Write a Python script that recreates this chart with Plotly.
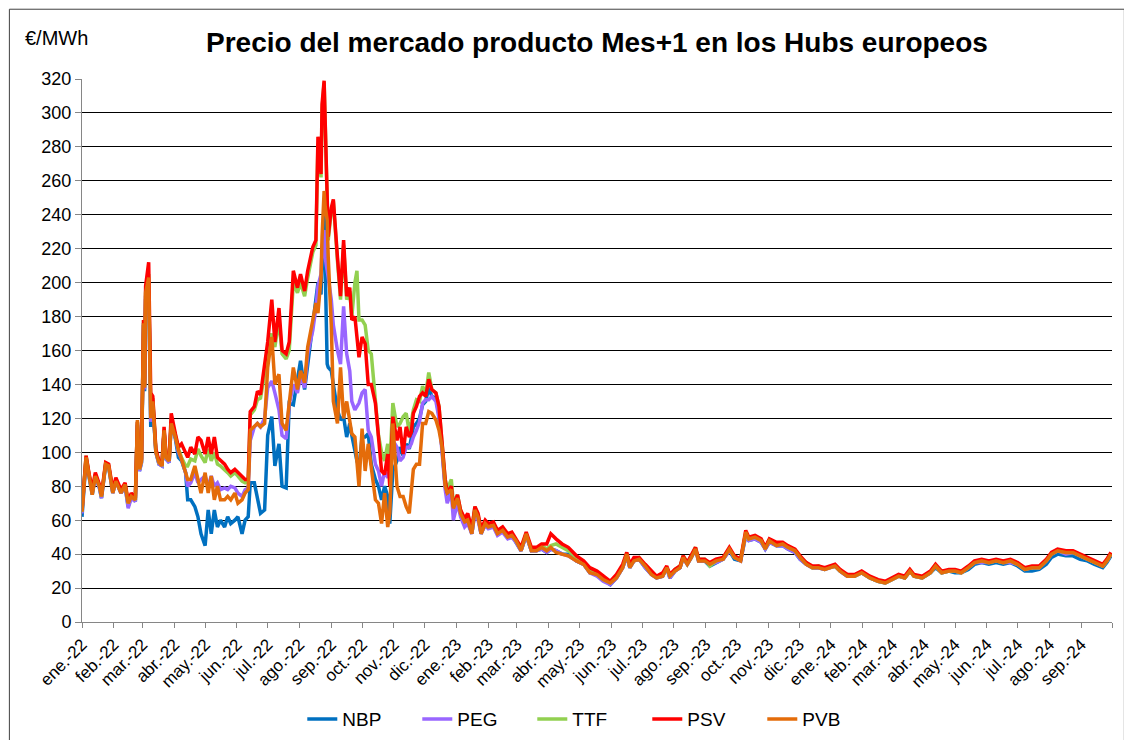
import plotly.graph_objects as go

# fechas de cotizacion (producto Mes+1)
dates = [
    "2022-01-01", "2022-01-05", "2022-01-08", "2022-01-11", "2022-01-14", "2022-01-18", "2022-01-20", "2022-01-24", "2022-01-27", "2022-01-31",
    "2022-02-03", "2022-02-08", "2022-02-12", "2022-02-15", "2022-02-18", "2022-02-22", "2022-02-24", "2022-02-26", "2022-02-28",
    "2022-03-02", "2022-03-03", "2022-03-04", "2022-03-07", "2022-03-09", "2022-03-11", "2022-03-14", "2022-03-17", "2022-03-20", "2022-03-22", "2022-03-24", "2022-03-27", "2022-03-29",
    "2022-04-02", "2022-04-05", "2022-04-08", "2022-04-12", "2022-04-14", "2022-04-17", "2022-04-21", "2022-04-24", "2022-04-27",
    "2022-05-01", "2022-05-04", "2022-05-07", "2022-05-10", "2022-05-13", "2022-05-16", "2022-05-20", "2022-05-23", "2022-05-26", "2022-05-30",
    "2022-06-02", "2022-06-06", "2022-06-09", "2022-06-12", "2022-06-14", "2022-06-18", "2022-06-21", "2022-06-24", "2022-06-28",
    "2022-07-01", "2022-07-05", "2022-07-08", "2022-07-12", "2022-07-15", "2022-07-19", "2022-07-22", "2022-07-26", "2022-07-30",
    "2022-08-02", "2022-08-06", "2022-08-09", "2022-08-14", "2022-08-17", "2022-08-19", "2022-08-22", "2022-08-23", "2022-08-25", "2022-08-26", "2022-08-28", "2022-08-29",
    "2022-09-01", "2022-09-03", "2022-09-07", "2022-09-10", "2022-09-13", "2022-09-16", "2022-09-19", "2022-09-21", "2022-09-24", "2022-09-26", "2022-09-28",
    "2022-10-01", "2022-10-04", "2022-10-07", "2022-10-10", "2022-10-14", "2022-10-17", "2022-10-20", "2022-10-23", "2022-10-26", "2022-10-28", "2022-10-31",
    "2022-11-04", "2022-11-07", "2022-11-10", "2022-11-13", "2022-11-16", "2022-11-18", "2022-11-20", "2022-11-23", "2022-11-26", "2022-11-29",
    "2022-12-02", "2022-12-05", "2022-12-08", "2022-12-12", "2022-12-15", "2022-12-18", "2022-12-21", "2022-12-23", "2022-12-27", "2022-12-29",
    "2023-01-02", "2023-01-05", "2023-01-09", "2023-01-12", "2023-01-16", "2023-01-19", "2023-01-22", "2023-01-25", "2023-01-29",
    "2023-02-01", "2023-02-06", "2023-02-10", "2023-02-15", "2023-02-20", "2023-02-24", "2023-02-28",
    "2023-03-05", "2023-03-10", "2023-03-15", "2023-03-20", "2023-03-25", "2023-03-30",
    "2023-04-03", "2023-04-08", "2023-04-14", "2023-04-20", "2023-04-28",
    "2023-05-05", "2023-05-11", "2023-05-18", "2023-05-24", "2023-05-31",
    "2023-06-06", "2023-06-12", "2023-06-16", "2023-06-19", "2023-06-23", "2023-06-28",
    "2023-07-04", "2023-07-10", "2023-07-15", "2023-07-21", "2023-07-25", "2023-07-28",
    "2023-08-02", "2023-08-07", "2023-08-10", "2023-08-14", "2023-08-18", "2023-08-22", "2023-08-25", "2023-08-31",
    "2023-09-05", "2023-09-11", "2023-09-18", "2023-09-24", "2023-09-29",
    "2023-10-05", "2023-10-10", "2023-10-13", "2023-10-19", "2023-10-25", "2023-10-29",
    "2023-11-02", "2023-11-09", "2023-11-15", "2023-11-20", "2023-11-27",
    "2023-12-02", "2023-12-08", "2023-12-14", "2023-12-20", "2023-12-26", "2023-12-30",
    "2024-01-05", "2024-01-10", "2024-01-17", "2024-01-24", "2024-01-31",
    "2024-02-08", "2024-02-16", "2024-02-23",
    "2024-03-01", "2024-03-07", "2024-03-13", "2024-03-18", "2024-03-22", "2024-03-30",
    "2024-04-07", "2024-04-12", "2024-04-18", "2024-04-25",
    "2024-05-01", "2024-05-07", "2024-05-14", "2024-05-20", "2024-05-27",
    "2024-06-03", "2024-06-10", "2024-06-17", "2024-06-24",
    "2024-07-01", "2024-07-08", "2024-07-15", "2024-07-22", "2024-07-29",
    "2024-08-03", "2024-08-09", "2024-08-17", "2024-08-24", "2024-08-31",
    "2024-09-07", "2024-09-14", "2024-09-22", "2024-09-26", "2024-09-30",
]

nbp = [
    62, 96, 85, 75, 86, 79, 73, 92, 91, 76,
    83, 76, 80, 68, 74, 71, 116, 89, 94,
    175, 136, 190, 198, 115, 128, 100, 93, 92, 112, 96, 94, 118,
    108, 97, 95, 88, 72, 72, 68, 62, 52,
    45, 66, 52, 66, 56, 60, 56, 62, 58, 60,
    62, 52, 60, 62, 82, 82, 72, 64, 66,
    110, 121, 92, 105, 80, 79, 129, 128, 142,
    154, 137, 152, 176, 188, 200, 193, 215, 240, 200, 152, 150,
    148, 140, 125, 119, 121, 109, 117, 110, 100, 95, 91,
    109, 109, 111, 93, 84, 80, 72, 80, 74, 58, 89,
    95, 103, 98, 105, 102, 108, 115, 117, 120, 128,
    130, 138, 133, 132, 122, 102, 80, 75, 78, 65,
    72, 64, 58, 60, 52, 66, 62, 52, 58,
    56, 57, 52, 54, 50, 51, 47,
    42, 51, 42, 42, 43, 41,
    43, 42, 40, 40, 36,
    34, 29, 28, 25, 22,
    26, 32, 39, 32, 36, 37,
    32, 28, 26, 27, 32, 26,
    30, 32, 38, 34, 38, 43, 36, 36,
    33, 35, 37, 42, 37,
    36, 51, 48, 49, 47, 43,
    47, 45, 45, 43, 41,
    37, 34, 32, 32, 31, 32,
    33, 30, 27, 27, 29,
    26, 24, 23,
    25, 27, 26, 30, 27, 26,
    29, 32, 29, 30,
    29, 29, 31, 34, 35,
    34, 35, 34, 35,
    33, 30, 30, 31, 34,
    38, 40, 39, 39, 37,
    36, 34, 32, 35, 39,
]

peg = [
    64, 97, 86, 76, 86, 79, 73, 93, 92, 76,
    83, 76, 80, 67, 73, 71, 117, 89, 94,
    176, 137, 192, 200, 118, 130, 100, 93, 92, 112, 96, 94, 118,
    109, 100, 96, 88, 80, 82, 88, 82, 84,
    86, 80, 86, 80, 82, 78, 79, 78, 80, 79,
    76, 74, 78, 79, 107, 115, 117, 115, 120,
    138, 142, 135, 125, 110, 108, 128, 140, 135,
    145, 138, 158, 172, 185, 198, 205, 220, 231, 215, 205, 203,
    190, 175, 160, 152, 186, 158, 148, 130, 125, 127, 129,
    135, 137, 113, 109, 93, 89, 80, 89, 85, 89, 107,
    103, 95, 97, 103, 103, 105, 109, 113, 118, 129,
    131, 131, 133, 130, 120, 100, 78, 70, 77, 60,
    70, 62, 56, 58, 52, 64, 60, 52, 57,
    55, 56, 51, 53, 49, 50, 47,
    42, 51, 42, 42, 43, 41,
    43, 42, 40, 39, 36,
    34, 29, 27, 24, 22,
    26, 32, 39, 32, 36, 37,
    32, 28, 26, 27, 32, 26,
    30, 32, 38, 34, 38, 43, 36, 36,
    34, 35, 37, 42, 38,
    36, 51, 48, 49, 47, 43,
    47, 45, 45, 43, 41,
    37, 34, 32, 32, 31, 32,
    33, 30, 27, 27, 29,
    26, 24, 23,
    25, 27, 26, 30, 27, 26,
    29, 33, 29, 30,
    30, 29, 32, 35, 35,
    35, 36, 35, 35,
    34, 31, 32, 32, 36,
    40, 42, 40, 41, 39,
    37, 35, 33, 36, 40,
]

ttf = [
    65, 98, 86, 77, 87, 80, 74, 93, 92, 77,
    84, 77, 81, 70, 75, 72, 118, 90, 95,
    178, 139, 195, 205, 122, 132, 101, 94, 93, 113, 97, 95, 120,
    110, 102, 97, 92, 92, 96, 95, 102, 98,
    94, 102, 95, 100, 93, 92, 90, 88, 86, 88,
    86, 83, 82, 83, 122, 125, 131, 132, 146,
    160, 170, 162, 178, 158, 155, 160, 200, 194,
    200, 192, 203, 218, 222, 282, 262, 302, 318, 295, 245, 225,
    242, 248, 213, 190, 222, 190, 195, 180, 200, 207, 178,
    178, 175, 160, 158, 130, 110, 100, 95, 105, 92, 129,
    115, 117, 121, 123, 112, 118, 125, 131, 130, 139,
    134, 147, 137, 135, 127, 105, 84, 78, 84, 70,
    75, 66, 60, 63, 54, 68, 63, 54, 59,
    57, 58, 53, 55, 51, 52, 48,
    43, 52, 43, 43, 45, 43,
    45, 46, 44, 42, 38,
    35, 30, 28, 25, 23,
    27, 33, 40, 33, 37, 38,
    33, 29, 27, 28, 32, 27,
    31, 33, 39, 35, 39, 44, 37, 37,
    33, 36, 38, 43, 38,
    37, 52, 49, 50, 48, 44,
    48, 46, 46, 44, 42,
    38, 35, 32, 33, 31, 32,
    33, 30, 28, 27, 29,
    26, 24, 23,
    25, 27, 26, 30, 27, 26,
    29, 33, 29, 30,
    30, 29, 32, 35, 36,
    35, 36, 35, 36,
    34, 31, 32, 32, 36,
    40, 42, 41, 41, 39,
    37, 35, 33, 36, 40,
]

psv = [
    66, 98, 87, 78, 88, 81, 75, 94, 93, 78,
    85, 78, 82, 71, 76, 73, 118, 91, 96,
    178, 140, 198, 212, 135, 133, 102, 95, 94, 115, 98, 96, 123,
    111, 103, 105, 99, 97, 103, 99, 109, 107,
    99, 109, 99, 109, 97, 95, 93, 90, 88, 90,
    88, 86, 84, 84, 124, 127, 136, 134, 150,
    165, 190, 165, 185, 160, 158, 165, 207, 197,
    205, 195, 207, 221, 225, 286, 264, 305, 319, 296, 247, 227,
    244, 249, 215, 192, 225, 192, 197, 178, 180, 170, 156,
    168, 164, 140, 140, 129, 109, 89, 87, 99, 80, 121,
    107, 115, 99, 115, 109, 112, 123, 127, 133, 135,
    133, 143, 137, 135, 127, 103, 84, 76, 80, 68,
    75, 66, 61, 64, 55, 68, 64, 55, 60,
    58, 59, 54, 56, 52, 53, 49,
    44, 53, 44, 44, 46, 46,
    52, 49, 46, 44, 39,
    36, 32, 30, 27, 24,
    28, 34, 41, 34, 38, 38,
    34, 30, 27, 29, 33, 28,
    31, 33, 39, 35, 39, 44, 37, 37,
    35, 37, 38, 44, 39,
    37, 54, 50, 51, 49, 44,
    49, 47, 47, 45, 43,
    39, 35, 33, 33, 32, 33,
    34, 31, 28, 28, 30,
    27, 25, 24,
    26, 28, 27, 31, 28, 27,
    30, 34, 30, 31,
    31, 30, 33, 36, 37,
    36, 37, 36, 37,
    35, 32, 33, 33, 37,
    41, 43, 42, 42, 40,
    38, 36, 34, 37, 41,
]

pvb = [
    65, 97, 86, 75, 86, 80, 74, 93, 92, 76,
    83, 76, 81, 70, 74, 72, 119, 90, 95,
    176, 138, 194, 203, 120, 130, 100, 94, 92, 113, 97, 95, 117,
    109, 101, 96, 88, 84, 84, 92, 84, 76,
    88, 76, 86, 72, 80, 72, 72, 74, 72, 76,
    70, 72, 76, 78, 113, 115, 117, 115, 117,
    150, 168, 140, 146, 117, 113, 129, 150, 137,
    148, 141, 162, 178, 188, 182, 203, 227, 254, 245, 237, 215,
    175, 130, 117, 150, 120, 130, 120, 111, 109, 95, 80,
    114, 89, 105, 89, 72, 70, 58, 76, 56, 64, 117,
    80, 74, 74, 68, 64, 76, 90, 93, 93, 117,
    117, 124, 123, 119, 113, 103, 80, 76, 78, 67,
    73, 64, 59, 60, 52, 66, 62, 52, 58,
    56, 57, 52, 54, 50, 51, 48,
    42, 52, 42, 42, 44, 42,
    44, 41, 40, 39, 36,
    34, 29, 28, 25, 23,
    26, 32, 40, 32, 36, 37,
    33, 28, 26, 27, 32, 27,
    30, 32, 38, 34, 38, 43, 36, 36,
    34, 36, 37, 43, 38,
    36, 53, 49, 50, 48, 43,
    48, 45, 46, 44, 42,
    38, 34, 32, 32, 31, 32,
    33, 30, 27, 27, 29,
    26, 24, 23,
    25, 27, 26, 30, 27, 26,
    29, 33, 29, 30,
    30, 29, 32, 35, 36,
    35, 36, 35, 36,
    34, 31, 32, 32, 36,
    40, 42, 41, 41, 39,
    37, 35, 33, 36, 40,
]

for s in (nbp, peg, ttf, psv, pvb):
    assert len(s) == len(dates), (len(s), len(dates))

hubs = ["NBP", "PEG", "TTF", "PSV", "PVB"]
colors = ["#0070C0", "#9966FF", "#92D050", "#FF0000", "#E46C0A"]

# ejes: un tick por mes, etiquetas en castellano
month_names = ["ene.", "feb.", "mar.", "abr.", "may.", "jun.",
               "jul.", "ago.", "sep.", "oct.", "nov.", "dic."]
tick_vals = []
tick_text = []
for year in (2022, 2023, 2024):
    for m in range(12):
        if year == 2024 and m > 8:
            break
        tick_vals.append(f"{year}-{m + 1:02d}-01")
        tick_text.append(f"{month_names[m]}-{year % 100}")
tick_vals.append("2024-10-01")
tick_text.append("")

fig = go.Figure()
for name, values, color in zip(hubs, [nbp, peg, ttf, psv, pvb], colors):
    fig.add_trace(go.Scatter(
        x=dates,
        y=values,
        mode='lines',
        name=name,
        line=dict(color=color, width=3.5),
    ))

font = "Arial, Liberation Sans, sans-serif"

# la pagina tiene 8px de margen en el body: se descuentan aqui
fig.update_layout(
    width=1132,
    height=740,
    paper_bgcolor='white',
    plot_bgcolor='white',
    margin=dict(l=74, r=28, t=71, b=126, autoexpand=False),
    font=dict(family=font, color='black'),
    showlegend=True,
    legend=dict(
        orientation='h',
        x=0.493, xanchor='center',
        y=-0.179, yanchor='middle',
        font=dict(size=19),
        itemwidth=30,
        entrywidth=70,
        traceorder='normal',
    ),
    xaxis=dict(
        type='date',
        range=["2022-01-01", "2024-10-01"],
        tickmode='array',
        tickvals=tick_vals,
        ticktext=tick_text,
        tickangle=-45,
        tickfont=dict(size=17),
        ticks='outside',
        ticklen=5,
        tickcolor='#868686',
        showline=True,
        linecolor='#868686',
        linewidth=1,
        showgrid=False,
        zeroline=False,
        automargin=False,
    ),
    yaxis=dict(
        range=[0, 320],
        dtick=20,
        tickfont=dict(size=18),
        ticks='outside',
        ticklen=6,
        tickcolor='#868686',
        showline=True,
        linecolor='#868686',
        linewidth=1,
        showgrid=True,
        gridcolor='#000000',
        gridwidth=1,
        zeroline=False,
        automargin=False,
    ),
    annotations=[
        dict(text="<b>Precio del mercado producto Mes+1 en los Hubs europeos</b>",
             xref='paper', yref='paper', x=0.5, y=1.068,
             xanchor='center', yanchor='middle', showarrow=False,
             font=dict(size=28)),
        dict(text="€/MWh", xref='paper', yref='paper', x=-0.057, y=1.0755,
             xanchor='left', yanchor='middle', showarrow=False,
             font=dict(size=20)),
    ],
    shapes=[
        # marco del grafico
        dict(type='rect', xref='paper', yref='paper',
             x0=-0.0705, x1=1.012, y0=-0.2265, y1=1.1285,
             line=dict(color='#404040', width=1), layer='below'),
    ],
)

fig.write_html("out.html")
